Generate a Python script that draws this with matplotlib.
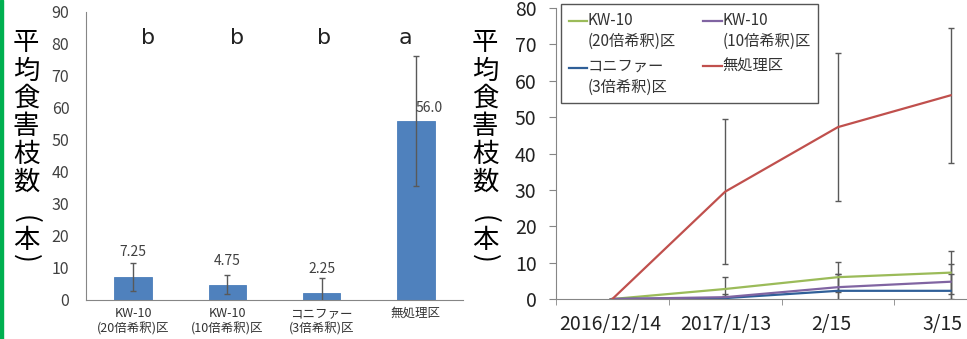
import matplotlib
matplotlib.use("Agg")
import matplotlib.pyplot as plt
from matplotlib.patches import Rectangle
from matplotlib.lines import Line2D
from matplotlib.legend_handler import HandlerLine2D
from matplotlib.transforms import ScaledTranslation

plt.rcParams['font.family'] = ['Noto Sans CJK JP', 'DejaVu Sans']

# left: bar chart of final counts
groups = ['KW-10\n(20倍希釈)区', 'KW-10\n(10倍希釈)区', 'コニファー\n(3倍希釈)区', '無処理区']
means = [7.25, 4.75, 2.25, 56.0]
errs = [4.4, 3.0, 4.6, 20.3]
value_labels = ['7.25', '4.75', '2.25', '56.0']
letters = ['b', 'b', 'b', 'a']

# right: time course
dates = ['2016/12/14', '2017/1/13', '2/15', '3/15']
kw20 = [0, 2.75, 6.0, 7.25]
kw20_sd = [0, 3.4, 4.2, 5.9]
kw10 = [0, 0.5, 3.25, 4.75]
kw10_sd = [0, 1.0, 3.6, 4.85]
conifer = [0, 0.25, 2.25, 2.25]
conifer_sd = [0, 0.5, 4.6, 4.6]
untreated = [0, 29.5, 47.25, 56.0]
untreated_sd = [0, 20.0, 20.4, 18.6]

ylabel = '平均食害枝数(本)'
W, H = 967, 339
axis_gray = '#868686'
text_col = '#404040'
err_col = '#595959'

fig = plt.figure(figsize=(W / 100, H / 100), dpi=100)
fig.patches.append(Rectangle((0, 0), 2.5 / W, 1, transform=fig.transFigure,
                             color='#00b050', zorder=5))


def vertical_label(xc):
    # characters stacked top to bottom, brackets turned on their side
    ys = [43, 71, 98, 126, 154, 182, 219, 240, 258]
    for ch, y in zip(ylabel, ys):
        rot = -90 if ch in '()' else 0
        fig.text(xc / W, 1 - y / H, ch, fontsize=19, ha='center', va='center',
                 rotation=rot, color='black')


# ---- bar chart
ax1 = fig.add_axes([86 / W, 39 / H, (463 - 86) / W, (300 - 12) / H])
x = range(len(groups))
ax1.bar(x, means, width=0.4, color='#4f81bd', edgecolor='#4a7ebb', linewidth=0.6, zorder=2)
ax1.errorbar(x, means, yerr=errs, fmt='none', ecolor=err_col, elinewidth=1, capsize=2,
             capthick=1, zorder=3)
ax1.set_xlim(-0.5, len(groups) - 0.5)
ax1.set_ylim(0, 90)
ax1.set_yticks(range(0, 91, 10))
ax1.set_xticks(list(x))
ax1.set_xticklabels(groups, fontsize=9, color='#333333', linespacing=1.2)
ax1.tick_params(axis='y', length=0, pad=12, labelsize=11.5, labelcolor=text_col)
ax1.tick_params(axis='x', length=0, pad=5)
for s in ['top', 'right']:
    ax1.spines[s].set_visible(False)
for s in ['left', 'bottom']:
    ax1.spines[s].set_color(axis_gray)

lab_dx = [0, 0, 0, 0.14]
lab_dy = [6.4, 6.2, 6.2, 2.8]
for i, (m, t) in enumerate(zip(means, value_labels)):
    ax1.text(i + lab_dx[i], m + lab_dy[i], t, ha='center', va='baseline', fontsize=10, color=text_col)
let_dx = [0.157, 0.10, 0.03, -0.11]
for i, l in enumerate(letters):
    ax1.text(i + let_dx[i], 80, l, ha='center', va='baseline', fontsize=16, color='#222222',
             family=['DejaVu Sans'])

vertical_label(26)

# ---- line chart
ax2 = fig.add_axes([556 / W, 40 / H, (1007 - 556) / W, (299 - 8) / H])
xs = list(range(len(dates)))
series = [
    (kw20, kw20_sd, '#9bbb59', 'KW-10\n(20倍希釈)区'),
    (conifer, conifer_sd, '#2f5f98', 'コニファー\n(3倍希釈)区'),
    (kw10, kw10_sd, '#8064a2', 'KW-10\n(10倍希釈)区'),
    (untreated, untreated_sd, '#c0504d', '無処理区'),
]
handles = []
for vals, sd, col, lab in series:
    ln, = ax2.plot(xs, vals, color=col, linewidth=1.6, label=lab, zorder=3)
    ax2.errorbar(xs, vals, yerr=sd, fmt='none', ecolor=err_col, elinewidth=1, capsize=2,
                 capthick=1, zorder=2)
    handles.append(ln)

ax2.set_xlim(-0.5, len(dates) - 0.5)
ax2.set_ylim(0, 80)
ax2.set_yticks(range(0, 81, 10))
ax2.set_xticks(xs)
ax2.set_xticklabels(dates)
ax2.set_xticks([i - 0.5 for i in range(len(dates) + 1)], minor=True)
ax2.tick_params(axis='x', which='major', length=0, pad=11, labelsize=14, labelcolor='#222222')
ax2.tick_params(axis='x', which='minor', length=4, direction='out', color=axis_gray)
ax2.tick_params(axis='y', length=5, direction='out', color=axis_gray, pad=9,
                labelsize=14, labelcolor='#222222')
for s in ['top', 'right']:
    ax2.spines[s].set_visible(False)
for s in ['left', 'bottom']:
    ax2.spines[s].set_color(axis_gray)

# nudge the last two date labels left, as in the source layout
for lbl, dx in zip(ax2.get_xticklabels(), [-2, 1, -7, -8]):
    lbl.set_transform(lbl.get_transform() + ScaledTranslation(dx / 100, 0, fig.dpi_scale_trans))


class TopLine(HandlerLine2D):
    def create_artists(self, legend, orig_handle, xdescent, ydescent, width, height,
                       fontsize, trans):
        arts = super().create_artists(legend, orig_handle, xdescent, ydescent, width,
                                      height, fontsize, trans)
        if '\n' in orig_handle.get_label():
            for a in arts:
                if isinstance(a, Line2D):
                    a.set_ydata([y + 0.68 * fontsize for y in a.get_ydata()])
        return arts


leg = ax2.legend(handles=handles, ncol=2, loc='upper left',
                 bbox_to_anchor=(561 / W, 1 - 4 / H), bbox_transform=fig.transFigure,
                 fontsize=11, frameon=True, fancybox=False, framealpha=1,
                 edgecolor='#555555', handlelength=1.2, handletextpad=0.05,
                 columnspacing=1.8, labelspacing=0.55, borderpad=0.5, borderaxespad=0,
                 handler_map={Line2D: TopLine()})
leg.get_frame().set_linewidth(1)
for t in leg.get_texts():
    t.set_color('#333333')
    t.set_linespacing(1.3)

vertical_label(485)

fig.savefig('out.png', dpi=100)
